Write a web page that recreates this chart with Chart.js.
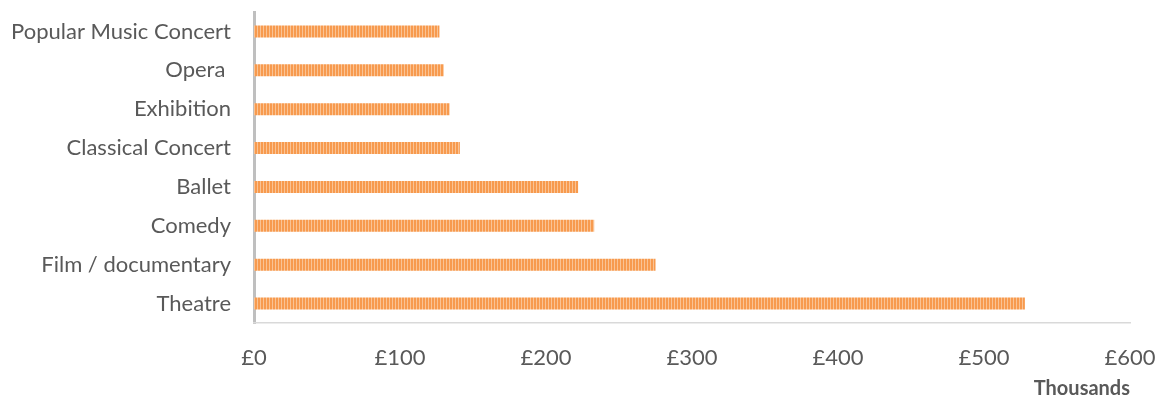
<!DOCTYPE html>
<html>
<head>
<meta charset="utf-8">
<script src="https://cdn.jsdelivr.net/npm/chart.js@4"></script>
<style>
  html, body { margin: 0; padding: 0; background: #fff; }
  #wrap { width: 1159px; height: 401px; }
</style>
</head>
<body>
<div id="wrap"><canvas id="c"></canvas></div>
<script>
const categories = ['Popular Music Concert', 'Opera ', 'Exhibition', 'Classical Concert', 'Ballet', 'Comedy', 'Film / documentary', 'Theatre'];
const values = [127, 130, 134, 141, 222, 233, 275, 528];
const xTicks = [0, 100, 200, 300, 400, 500, 600];

// vertical stripe fill like the original's patterned bars
function stripes() {
  const p = document.createElement('canvas');
  p.width = 3; p.height = 4;
  const g = p.getContext('2d');
  g.fillStyle = '#f79a4e';
  g.fillRect(0, 0, 3, 4);
  g.fillStyle = '#fac394';
  g.fillRect(2, 0, 1, 4);
  return g.createPattern(p, 'repeat');
}

const txt = '#595959';
const font = 'Lato, "Open Sans", sans-serif';

new Chart(document.getElementById('c'), {
  type: 'bar',
  data: {
    labels: categories,
    datasets: [{ data: values, backgroundColor: stripes(), barPercentage: 0.31, categoryPercentage: 1 }]
  },
  options: {
    indexAxis: 'y',
    responsive: true,
    maintainAspectRatio: false,
    animation: false,
    layout: { padding: { top: 12, right: 29, left: 0, bottom: 0 } },
    plugins: { legend: { display: false }, tooltip: { enabled: false } },
    scales: {
      y: {
        grid: { display: false },
        border: { display: true, color: '#bfbfbf', width: 3 },
        ticks: { color: txt, font: { family: font, size: 22 }, padding: 15 },
        afterFit: s => { s.width = 254; s.paddingTop = 0; s.paddingBottom = 0; }
      },
      x: {
        min: 0, max: 600,
        afterBuildTicks: s => { s.ticks = xTicks.map(v => ({ value: v })); },
        grid: { display: false },
        border: { display: true, color: '#d9d9d9', width: 1.5 },
        ticks: { color: txt, font: { family: font, size: 22 }, padding: 14, callback: v => '£' + v },
        title: { display: true, text: 'Thousands', align: 'end', color: txt, font: { family: font, size: 20, weight: 'bold' }, padding: { top: 16, bottom: 0 } },
        afterFit: s => { s.height = 78; s.paddingLeft = 0; s.paddingRight = 0; }
      }
    }
  }
});
</script>
</body>
</html>
